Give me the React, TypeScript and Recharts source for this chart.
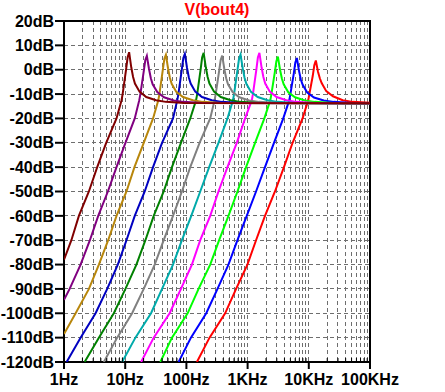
import { LineChart, Line, XAxis, YAxis, CartesianGrid, ReferenceArea } from "recharts";

// [frequency Hz, magnitude dB]
const maroon = [
  [1, -78], [1.32, -70], [1.75, -60], [2.55, -50], [3.49, -40], [4.89, -30], [7.21, -20],
  [8.71, -12.5], [9.08, -10], [10.33, 0], [10.94, 5], [11.59, 7.2], [12.56, 1], [13.46, -3],
  [14.42, -5.7], [17.14, -9], [22.08, -11.2], [31.9, -12.5], [46.1, -13.2], [92, -13.7], [100000, -13.8],
];
const purple = [
  [1, -94.5], [1.236, -90], [1.866, -80], [2.649, -70], [3.622, -60], [5.21, -50], [7.21, -40],
  [10.09, -30], [14.32, -20], [16.98, -12.5], [17.7, -10], [20.14, -0.5], [21.33, 4], [22.59, 5.7],
  [24.49, 0.3], [26.24, -3.5], [28.12, -6], [33.42, -9.2], [43.05, -11.3], [62.2, -12.6], [89.9, -13.2],
  [179.5, -13.7], [100000, -13.8],
];
const gold = [
  [1, -108.5], [1.549, -100], [2.553, -90], [3.715, -80], [5.27, -70], [7.21, -60], [10.49, -50],
  [14.16, -40], [20.09, -30], [28.51, -20], [34.75, -12.5], [36.22, -10], [41.21, 0], [43.65, 4.5],
  [46.24, 6.1], [50.1, 0.6], [53.7, -3.3], [57.5, -5.8], [68.4, -9.1], [88.1, -11.2], [127.4, -12.5],
  [184.1, -13.2], [367.3, -13.7], [100000, -13.8],
];
const navy = [
  [1.104, -120], [1.866, -110], [3.281, -100], [5.08, -90], [7.57, -80], [10.49, -70], [14.32, -60],
  [20.84, -50], [28.51, -40], [39.99, -30], [60.4, -20], [70.96, -12.5], [73.96, -10], [84.1, 0],
  [89.1, 4.8], [94.4, 6.5], [102.3, 0.8], [109.6, -3.2], [117.5, -5.7], [139.6, -9], [179.9, -11.2],
  [260, -12.5], [375.8, -13.2], [750, -13.7], [100000, -13.8],
];
const green = [
  [2.173, -120], [3.715, -110], [6.516, -100], [10.09, -90], [15.24, -80], [21.38, -70], [29.24, -60],
  [42.56, -50], [58.08, -40], [81.47, -30], [115.6, -20], [143.9, -12.5], [150, -10], [170.6, 0],
  [180.7, 5], [191.4, 6.9], [207.5, 1], [222.3, -3], [238.2, -5.7], [283.1, -9], [364.8, -11.2],
  [527.2, -12.5], [762.1, -13.2], [1521, -13.7], [100000, -13.8],
];
const gray = [
  [4.477, -120], [7.396, -110], [12.97, -100], [20.09, -90], [30.34, -80], [42.56, -70], [60.4, -60],
  [84.5, -50], [115.6, -40], [164.1, -30], [244.9, -20], [289.1, -12.5], [301.3, -10], [342.8, -0.5],
  [363.1, 4], [384.6, 5.8], [416.9, 0.3], [446.7, -3.5], [478.6, -6], [568.9, -9.2], [732.8, -11.3],
  [1059, -12.6], [1531, -13.2], [3055, -13.7], [100000, -13.8],
];
const cyan = [
  [8.913, -120], [14.69, -110], [26.42, -100], [39.99, -90], [60.4, -80], [84.5, -70], [120, -60],
  [168.3, -50], [235.5, -40], [334.2, -30], [468.8, -20], [576.8, -12.5], [601.2, -10], [683.9, 0],
  [724.4, 4.5], [767.4, 6.2], [831.8, 0.6], [891.3, -3.3], [955, -5.8], [1135, -9.1], [1462, -11.2],
  [2113, -12.5], [3055, -13.2], [6095, -13.7], [100000, -13.8],
];
const magenta = [
  [18.2, -120], [29.24, -110], [53.2, -100], [81.47, -90], [123, -80], [168.3, -70], [244.9, -60],
  [334.2, -50], [468.8, -40], [665.3, -30], [910.1, -20], [1172, -12.5], [1222, -10], [1390, 0],
  [1472, 5], [1560, 6.9], [1690, 1], [1811, -3], [1941, -5.7], [2307, -9], [2972, -11.2],
  [4295, -12.5], [6209, -13.2], [12390, -13.7], [100000, -13.8],
];
const lime = [
  [37.5, -120], [58.08, -110], [104.7, -100], [158.1, -90], [244.9, -80], [342.8, -70], [486.4, -60],
  [682.3, -50], [944, -40], [1324, -30], [1879, -20], [2350, -12.5], [2449, -10], [2786, -1],
  [2951, 3.5], [3126, 5.4], [3388, 0], [3631, -3.6], [3890, -6], [4624, -9.3], [5957, -11.3],
  [8610, -12.6], [12450, -13.2], [24830, -13.7], [100000, -13.8],
];
const blue = [
  [74.6, -120], [118.6, -110], [210.9, -100], [322.1, -90], [486.4, -80], [682.3, -70], [968.3, -60],
  [1374, -50], [1923, -40], [2698, -30], [3828, -20], [4797, -12.5], [5000, -10], [5689, -1.5],
  [6026, 3], [6383, 4.8], [6918, -0.5], [7413, -4], [7943, -6.2], [9441, -9.4], [12160, -11.4],
  [17580, -12.6], [25410, -13.2], [50700, -13.7], [100000, -13.8],
];
const red = [
  [148.6, -120], [238.8, -110], [429.5, -100], [648.6, -90], [993.1, -80], [1374, -70], [1923, -60],
  [2799, -50], [3926, -40], [5433, -30], [7907, -20], [9795, -12.5], [10210, -10], [11610, -2.5],
  [12300, 1.8], [13030, 3.8], [14130, -0.8], [15140, -3.5], [16220, -5.5], [19280, -8.8], [24830, -10.9],
  [35890, -12.5], [51880, -13.2], [100000, -13.6],
];

// drawn back to front
const series = [
  { name: "red", color: "#ff0000", pts: red },
  { name: "blue", color: "#0000ff", pts: blue },
  { name: "lime", color: "#00ff00", pts: lime },
  { name: "magenta", color: "#ff00ff", pts: magenta },
  { name: "cyan", color: "#00aaaa", pts: cyan },
  { name: "gray", color: "#808080", pts: gray },
  { name: "green", color: "#008000", pts: green },
  { name: "navy", color: "#0000c0", pts: navy },
  { name: "gold", color: "#b8860b", pts: gold },
  { name: "purple", color: "#800080", pts: purple },
  { name: "maroon", color: "#800000", pts: maroon },
];

const decades = [1, 10, 100, 1000, 10000, 100000];
const decadeLabels = ["1Hz", "10Hz", "100Hz", "1KHz", "10KHz", "100KHz"];
const dbTicks = [20, 10, 0, -10, -20, -30, -40, -50, -60, -70, -80, -90, -100, -110, -120];

const xTicks: number[] = [];
decades.forEach((d, i) => {
  xTicks.push(d);
  if (i < decades.length - 1) for (let m = 2; m <= 9; m++) xTicks.push(d * m);
});

const FONT = "'Liberation Sans', Arial, sans-serif";

const XTick = (props: any) => {
  const { x, y, payload } = props;
  const i = decades.indexOf(payload.value);
  if (i >= 0) {
    return (
      <g>
        <line x1={x} x2={x} y1={y} y2={y + 7} stroke="#000" strokeWidth={2} />
        <text x={x} y={y + 23} textAnchor="middle" fontFamily={FONT} fontWeight={700} fontSize={16} fill="#000">
          {decadeLabels[i]}
        </text>
      </g>
    );
  }
  return <line x1={x} x2={x} y1={y} y2={y - 4} stroke="#000" strokeWidth={1} />;
};

export default function App() {
  return (
    <div style={{ position: "absolute", left: 0, top: 0, width: 445, height: 392, background: "#fff" }}>
      <div
        style={{
          position: "absolute",
          left: 0,
          top: 1,
          width: 434,
          textAlign: "center",
          fontFamily: FONT,
          fontWeight: 700,
          fontSize: 16,
          lineHeight: "18px",
          color: "#ff0000",
        }}
      >
        V(bout4)
      </div>
      <LineChart width={445} height={392} margin={{ top: 21, right: 75, bottom: 0, left: 0 }}>
        <CartesianGrid stroke="#6e6e6e" strokeDasharray="4 3" shapeRendering="crispEdges" />
        <XAxis
          dataKey="f"
          type="number"
          scale="log"
          domain={[1, 100000]}
          allowDataOverflow
          ticks={xTicks}
          interval={0}
          tick={<XTick />}
          tickSize={0}
          tickMargin={0}
          tickLine={false}
          axisLine={false}
          height={30}
        />
        <YAxis
          type="number"
          domain={[-120, 20]}
          allowDataOverflow
          ticks={dbTicks}
          interval={0}
          width={64}
          tickSize={9}
          tickMargin={1}
          tickLine={{ stroke: "#000", strokeWidth: 2 }}
          axisLine={false}
          tickFormatter={(v: number) => `${v}dB`}
          tick={{ fill: "#000", fontSize: 16, fontWeight: 700, fontFamily: FONT }}
        />
        {series.map((s) => (
          <Line
            key={s.name}
            data={s.pts.map(([f, db]) => ({ f, db }))}
            dataKey="db"
            type="linear"
            stroke={s.color}
            strokeWidth={2}
            dot={false}
            isAnimationActive={false}
          />
        ))}
        <ReferenceArea x1={1} x2={100000} y1={-120} y2={20} fill="none" stroke="#000" strokeWidth={2} />
      </LineChart>
    </div>
  );
}
